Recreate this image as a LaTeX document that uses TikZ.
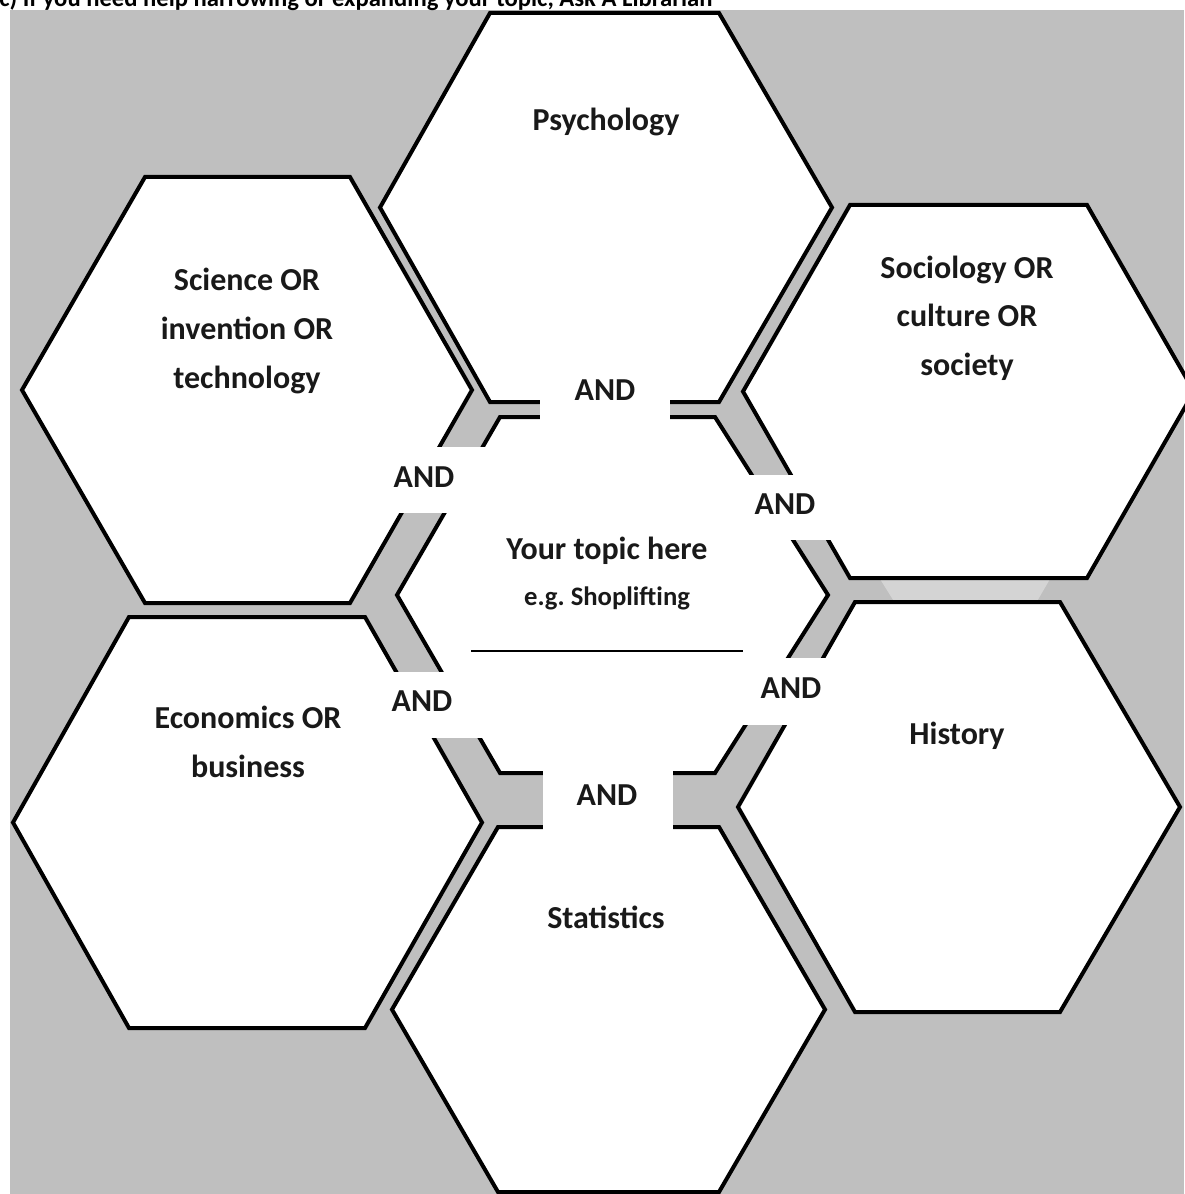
\documentclass[tikz,border=0pt]{standalone}
\usepackage{fontspec}
\setmainfont{Carlito}
\usetikzlibrary{positioning}

\definecolor{panelgray}{RGB}{191,191,191}
\definecolor{glowgray}{RGB}{212,212,212}

% hexagon: left tip x, flat left x, flat right x, right tip x, top y, bottom y
\newcommand{\hexcell}[6]{%
  \filldraw[cell] (#1,{(#5+#6)/2}) -- (#2,#5) -- (#3,#5) -- (#4,{(#5+#6)/2})
    -- (#3,#6) -- (#2,#6) -- cycle;}

\begin{document}
\begin{tikzpicture}[x=0.75pt,y=-0.75pt,
    cell/.style={fill=white,draw=black,line width=3pt},
    topic/.style={font=\bfseries\fontsize{24}{36.4}\selectfont,align=center,
        text=black!90,inner sep=0pt},
    andgap/.style={fill=white},
    andword/.style={font=\bfseries\fontsize{24}{29}\selectfont,text=black!90,
        inner sep=0pt}]
    \useasboundingbox (0,0) rectangle (1184,1194);
    \fill[panelgray] (10,10) rectangle (1184,1194);
    \fill[glowgray] (880,579) -- (1050,579) -- (1036,603) -- (895,603) -- cycle;

    \node[anchor=base west,inner sep=0pt,font=\bfseries\fontsize{18.5}{22}\selectfont]
        (caption) at (-1,7) {c) If you need help narrowing or expanding your topic, Ask A Librarian};

    % outer ring
    \hexcell{380}{490}{719}{832}{13}{402}
    \hexcell{22}{145}{350}{472}{177}{603}
    \hexcell{743}{850}{1087}{1194}{205}{578}
    \hexcell{13}{129}{365}{482}{617}{1028}
    \hexcell{738}{855}{1060}{1180}{602}{1012}
    \hexcell{392}{498}{719}{825}{827}{1192}
    % middle
    \hexcell{397}{500}{715}{828}{417}{773}

    % gaps for the AND words
    \fill[andgap] (540,362) rectangle (670,421);
    \fill[andgap] (543,769) rectangle (673,831);
    \fill[andgap] (385,447) rectangle (492,513);
    \fill[andgap] (743,475) rectangle (836,540);
    \fill[andgap] (388,672) rectangle (486,738);
    \fill[andgap] (738,658) rectangle (832,725);

    \node[topic] (psych) at (606,122) {Psychology};
    \node[topic] (sci)   at (247,331) {Science OR\\invention OR\\technology};
    \node[topic] (soc)   at (967,318) {Sociology OR\\culture OR\\society};
    \node[topic] (econ)  at (248,742) {Economics OR\\business};
    \node[topic] (hist)  at (957,736) {History};
    \node[topic] (stat)  at (606,917) {Statistics};

    \node[topic] (topic) at (607,551) {Your topic here};
    \node[topic,font=\bfseries\fontsize{20}{24}\selectfont,below=16pt of topic] (eg) {e.g.\ Shoplifting};
    \draw[line width=2pt] (471,651) -- (743,651);

    \node[andword] (and1) at (605,390) {AND};
    \node[andword] (and2) at (424,477) {AND};
    \node[andword] (and3) at (785,504) {AND};
    \node[andword] (and4) at (422,701) {AND};
    \node[andword] (and5) at (791,688) {AND};
    \node[andword] (and6) at (607,795) {AND};
\end{tikzpicture}
\end{document}
